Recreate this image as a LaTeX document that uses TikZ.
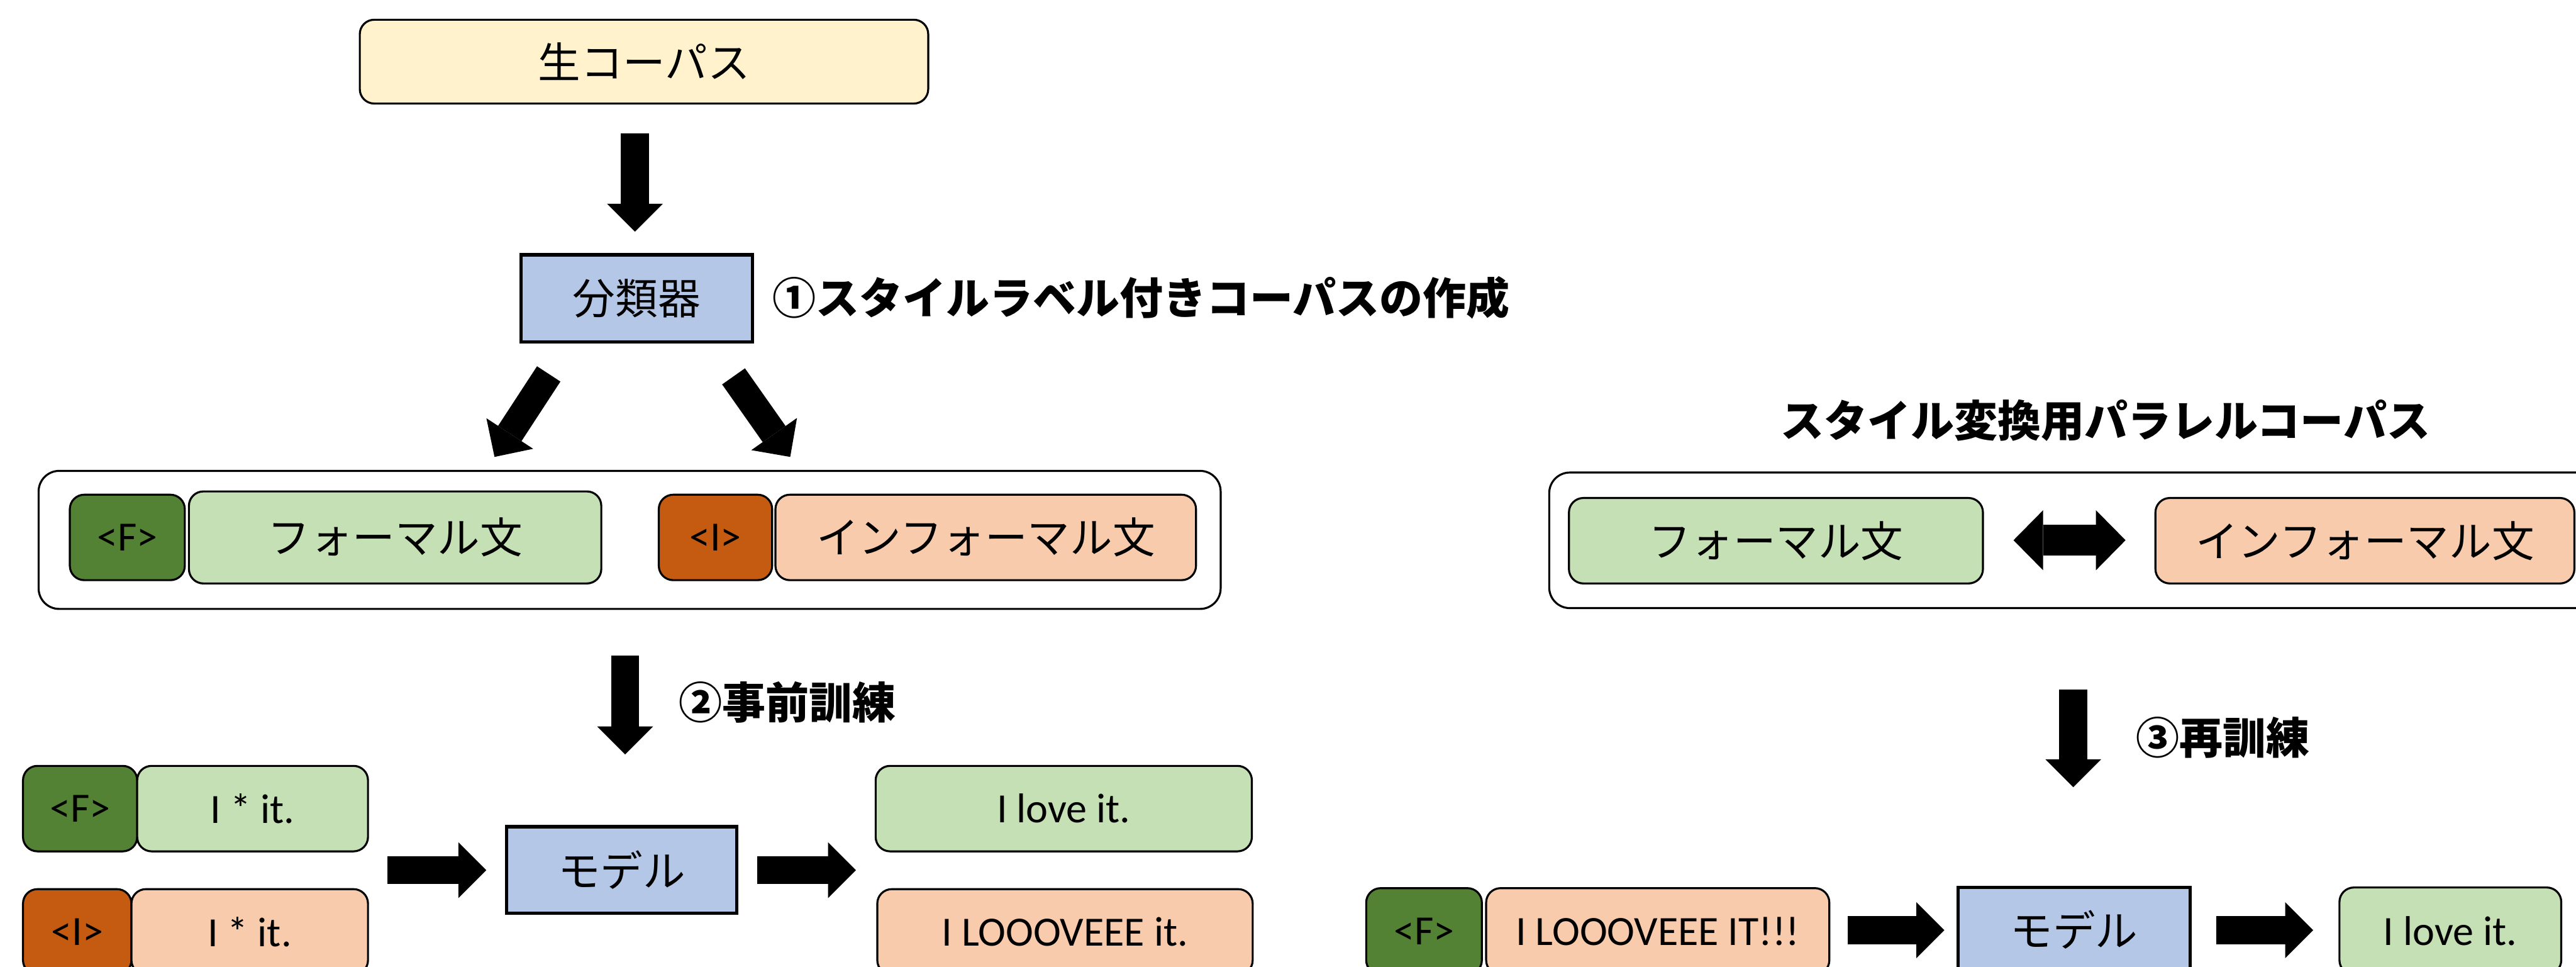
\documentclass[tikz,border=0pt]{standalone}
\usepackage{fontspec}
\setmainfont{Carlito}
\newfontfamily\jp{Noto Sans CJK JP}
\usetikzlibrary{arrows.meta}
\definecolor{cyellow}{HTML}{FFF2CC}
\definecolor{cblue}{HTML}{B4C7E7}
\definecolor{cdgreen}{HTML}{548235}
\definecolor{clgreen}{HTML}{C5E0B4}
\definecolor{cdorange}{HTML}{C55A11}
\definecolor{clorange}{HTML}{F8CBAD}
\begin{document}
\begin{tikzpicture}[x=0.03193cm, y=-0.03193cm,
  sz/.style 2 args={minimum width=#1*0.03193cm, minimum height=#2*0.03193cm},
  rbox/.style={draw=black, line width=1.1pt, rounded corners=0.28cm, inner sep=0pt, text=black},
  sbox/.style={draw=black, line width=1.8pt, inner sep=0pt},
  container/.style={draw=black, line width=1.1pt, rounded corners=0.4cm, inner sep=0pt},
  jptext/.style={font=\jp\fontsize{23.5pt}{28pt}\selectfont},
  latext/.style={font=\fontsize{23pt}{28pt}\selectfont},
  blabel/.style={font=\jp\bfseries\fontsize{24pt}{28pt}\selectfont, inner sep=0pt},
  >={Triangle[length=0.543cm, width=1.086cm, line width=0pt]},
  barrow/.style={line width=0.543cm, ->},
  dbarrow/.style={line width=0.594cm, <->, >={Triangle[length=0.575cm, width=1.165cm, line width=0pt]}}
]
\useasboundingbox (0,0) rectangle (1568,588);
\clip (0,0) rectangle (1568,588);

% top
\node[rbox, fill=cyellow, jptext, sz={346}{51}] (raw) at (392,37.5) {生コーパス};
\node[sbox, fill=cblue, jptext, sz={141}{53}] (cls) at (387.5,181.5) {分類器};
\node[blabel, anchor=west] (lab1) at (470,181) {①スタイルラベル付きコーパスの作成};
\coordinate (a1s) at (386.5,81);
\coordinate (a1e) at (386.5,141);
\draw[barrow] (a1s) -- (a1e);

\coordinate (dls) at (334,227.5);
\coordinate (dle) at (301,278);
\coordinate (drs) at (446.5,229);
\coordinate (dre) at (481,278);
\draw[barrow] (dls) -- (dle);
\draw[barrow] (drs) -- (dre);

% left corpus container
\node[container, sz={719.5}{84}] (contL) at (383.25,328.5) {};
\node[rbox, fill=cdgreen, latext, sz={70}{52}] (fTag) at (77.5,327) {<F>};
\node[rbox, fill=clgreen, jptext, sz={251}{56}] (fSent) at (240.5,327) {フォーマル文};
\node[rbox, fill=cdorange, latext, sz={69}{52}] (iTag) at (435.5,327) {<I>};
\node[rbox, fill=clorange, jptext, sz={256}{52}] (iSent) at (600,327) {インフォーマル文};

% pretraining
\coordinate (a2s) at (380.5,399);
\coordinate (a2e) at (380.5,459);
\draw[barrow] (a2s) -- (a2e);
\node[blabel, anchor=west] (lab2) at (413,427.5) {②事前訓練};

\node[rbox, fill=cdgreen, latext, sz={69.5}{52}] (f2Tag) at (48.75,492) {<F>};
\node[rbox, fill=clgreen, latext, sz={140.5}{52}] (f2Sent) at (153.75,492) {I * it.};
\node[rbox, fill=cdorange, latext, sz={66}{52}] (i2Tag) at (47,567) {<I>};
\node[rbox, fill=clorange, latext, sz={144}{52}] (i2Sent) at (152,567) {I * it.};
\node[sbox, fill=cblue, jptext, sz={140}{52.5}] (model1) at (378.5,529.25) {モデル};
\coordinate (h1s) at (236,529.5);
\coordinate (h1e) at (296,529.5);
\coordinate (h2s) at (461,529.5);
\coordinate (h2e) at (521,529.5);
\draw[barrow] (h1s) -- (h1e);
\draw[barrow] (h2s) -- (h2e);
\node[rbox, fill=clgreen, latext, sz={229}{52}] (out1) at (647.5,492) {I love it.};
\node[rbox, fill=clorange, latext, sz={228.5}{52}] (out2) at (648.25,567) {I LOOOVEEE it.};

% right side
\node[blabel] (title) at (1281.5,255.7) {スタイル変換用パラレルコーパス};
\node[container, sz={677}{82.5}] (contR) at (1281.5,328.75) {};
\node[rbox, fill=clgreen, jptext, sz={252}{52}] (pf) at (1081,329) {フォーマル文};
\node[rbox, fill=clorange, jptext, sz={255}{52}] (pi) at (1439.5,329) {インフォーマル文};
\coordinate (das) at (1225.6,328.7);
\coordinate (dae) at (1293.8,328.7);
\draw[dbarrow] (das) -- (dae);

\coordinate (a3s) at (1262,419.7);
\coordinate (a3e) at (1262,479);
\draw[barrow] (a3s) -- (a3e);
\node[blabel, anchor=west] (lab3) at (1300,448.6) {③再訓練};

\node[rbox, fill=cdgreen, latext, sz={70.4}{52.6}] (f3Tag) at (866.8,566.7) {<F>};
\node[rbox, fill=clorange, latext, sz={208.9}{52.6}] (f3Sent) at (1009.05,566.7) {I LOOOVEEE IT!!!};
\node[sbox, fill=cblue, jptext, sz={141}{51}] (model2) at (1262.5,565.5) {モデル};
\node[rbox, fill=clgreen, latext, sz={135}{53}] (out3) at (1491.5,566.5) {I love it.};
\coordinate (h3s) at (1124.5,566);
\coordinate (h3e) at (1183.5,566);
\coordinate (h4s) at (1349,566);
\coordinate (h4e) at (1408,566);
\draw[barrow] (h3s) -- (h3e);
\draw[barrow] (h4s) -- (h4e);
\end{tikzpicture}
\end{document}
